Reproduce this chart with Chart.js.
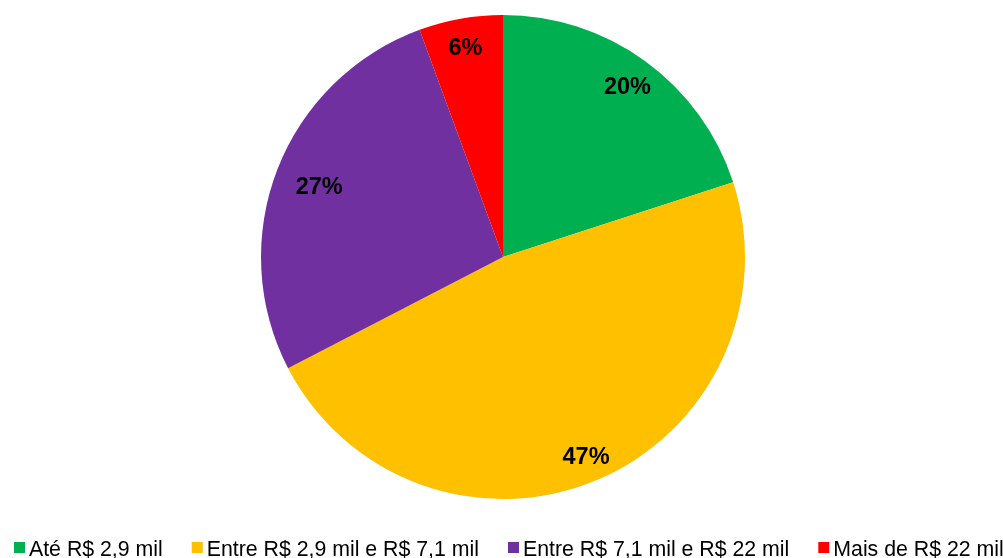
<!DOCTYPE html>
<html>
<head>
<meta charset="utf-8">
<script src="https://cdn.jsdelivr.net/npm/chart.js@4/dist/chart.umd.min.js"></script>
<style>
  html, body { margin: 0; padding: 0; background: #fff; }
  #wrap { width: 1003px; height: 558px; position: relative; }
</style>
</head>
<body>
<div id="wrap"><canvas id="pieChart"></canvas></div>
<script>
// Faixas de renda
const categories = ['Até R$ 2,9 mil', 'Entre R$ 2,9 mil e R$ 7,1 mil', 'Entre R$ 7,1 mil e R$ 22 mil', 'Mais de R$ 22 mil'];
const shares = [20, 47.4, 27, 5.6];
const sliceColors = ['#00b050', '#ffc000', '#7030a0', '#ff0000'];
// how far out each percent label sits (fraction of the radius)
const labelRadius = [0.875, 0.89, 0.815, 0.885];

// percent labels drawn inside the slices
const sliceLabels = {
    id: 'sliceLabels',
    afterDatasetsDraw(chart) {
        const ctx = chart.ctx;
        const meta = chart.getDatasetMeta(0);
        const total = shares.reduce((a, b) => a + b, 0);
        ctx.save();
        ctx.font = 'bold 23.5px "Liberation Sans", Arial, sans-serif';
        ctx.fillStyle = '#000';
        ctx.textAlign = 'center';
        ctx.textBaseline = 'alphabetic';
        meta.data.forEach((arc, i) => {
            const mid = (arc.startAngle + arc.endAngle) / 2;
            const r = arc.outerRadius * labelRadius[i];
            const x = arc.x + Math.cos(mid) * r;
            const y = arc.y + Math.sin(mid) * r;
            ctx.fillText(Math.round(shares[i] / total * 100) + '%', x, y + 8.5);
        });
        ctx.restore();
    }
};

// legend in one row along the bottom (runs past the right edge like the original)
const bottomLegend = {
    id: 'bottomLegend',
    afterDraw(chart) {
        const ctx = chart.ctx;
        ctx.save();
        ctx.font = '21.3px "Liberation Sans", Arial, sans-serif';
        ctx.textBaseline = 'alphabetic';
        let x = 14;
        categories.forEach((label, i) => {
            ctx.fillStyle = sliceColors[i];
            ctx.fillRect(x, 542, 11, 11);
            ctx.fillStyle = '#000';
            ctx.fillText(label, x + 15, 556);
            x += 15 + ctx.measureText(label).width + 29;
        });
        ctx.restore();
    }
};

const pieCtx = document.getElementById('pieChart').getContext('2d');
const pieChart = new Chart(pieCtx, {
    type: 'pie',
    data: {
        labels: categories,
        datasets: [{
            data: shares,
            backgroundColor: sliceColors,
            borderWidth: 0
        }]
    },
    options: {
        responsive: true,
        maintainAspectRatio: false,
        animation: false,
        layout: {
            padding: { top: 15, bottom: 59, left: 3, right: 0 }
        },
        plugins: {
            legend: { display: false },
            tooltip: { enabled: false }
        }
    },
    plugins: [sliceLabels, bottomLegend]
});
</script>
</body>
</html>
